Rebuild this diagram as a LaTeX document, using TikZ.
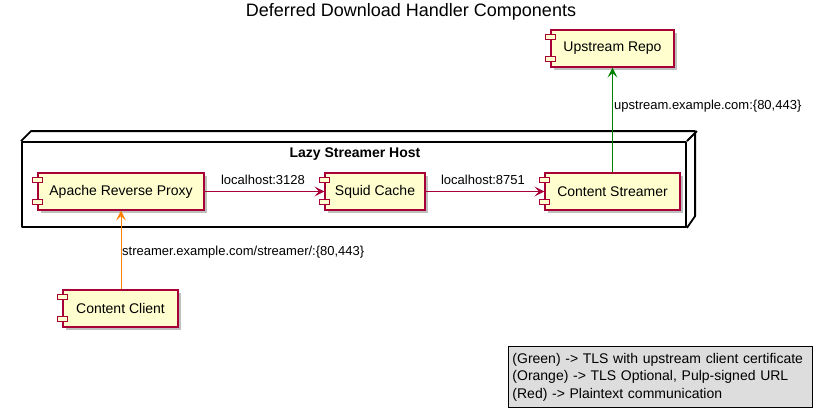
\documentclass[tikz,border=0pt]{standalone}
\usepackage{fontspec}
\setmainfont{Liberation Sans}
\usetikzlibrary{arrows.meta, shadows, calc}

\definecolor{compfill}{HTML}{FEFECE}
\definecolor{compline}{HTML}{A80036}
\definecolor{legfill}{HTML}{DDDDDD}

\begin{document}
\begin{tikzpicture}[
  x=1pt, y=-1pt,
  comp/.style={rectangle, draw=compline, fill=compfill, line width=1.2pt,
               minimum height=37pt, inner sep=0pt, font=\fontsize{14}{16}\selectfont,
               drop shadow={shadow xshift=3pt, shadow yshift=-3pt, opacity=0.25, fill=black}},
  icon/.style={draw=compline, fill=compfill, line width=1pt},
  hostline/.style={draw=black, line width=1.8pt, line join=round},
  plain/.style={->, >={Stealth[length=10pt, width=10pt, inset=4.5pt]}, line width=0.9pt, compline},
  tls/.style={plain, green!50!black},
  opt/.style={plain, orange},
  label/.style={font=\fontsize{13}{15}\selectfont, inner sep=0pt},
  ptitle/.style={font=\fontsize{18}{20}\selectfont},
]
\useasboundingbox (0,0) rectangle (822,418);

% --- title ---
\node[ptitle] (title) at (411, 12) {Deferred Download Handler Components};

% --- host (3d node) ---
\node[hostline, rectangle, minimum width=664pt, minimum height=85pt, inner sep=0pt]
  (host) at (354, 184.5) {};
\draw[hostline] (host.north west) -- ++(10,-10) -- ++(664,0) -- ++(0,85) -- (host.south east);
\draw[hostline] (host.north east) -- ++(10,-10);
\node[font=\fontsize{14}{16}\selectfont\bfseries] (hostname) at (355, 154) {Lazy Streamer Host};

% --- components ---
\node[comp, minimum width=166pt] (proxy) at (121, 191.5) {Apache Reverse Proxy};
\node[comp, minimum width=100pt] (squid) at (375, 191.5) {Squid Cache};
\node[comp, minimum width=135pt] (streamer) at (612.5, 191.5) {Content Streamer};
\node[comp, minimum width=123pt] (repo) at (612.5, 48.5) {Upstream Repo};
\node[comp, minimum width=115pt] (client) at (120.5, 308.5) {Content Client};

\foreach \c in {proxy, squid, streamer, repo, client} {
  \draw[icon] ($(\c.north west)+(-5,5)$) rectangle ++(10,5);
  \draw[icon] ($(\c.south west)+(-5,-11)$) rectangle ++(10,5);
}

% --- connections ---
\draw[plain] (proxy) -- (squid);
\node[label] (l3128) at (263, 180) {localhost:3128};
\draw[plain] (squid) -- (streamer);
\node[label] (l8751) at (483, 180) {localhost:8751};
\draw[tls] (streamer) -- (repo);
\node[label, anchor=west] (lup) at (614, 106) {upstream.example.com:\{80,443\}};
\draw[opt] (client.north -| proxy.south) -- (proxy);
\node[label, anchor=west] (lclient) at (122, 252) {streamer.example.com/streamer/:\{80,443\}};

% --- legend ---
\node[draw=black, fill=legfill, line width=0.9pt, align=left, anchor=north west,
      minimum width=304pt, minimum height=61pt, inner xsep=4pt, inner ysep=3pt,
      font=\fontsize{14}{17.5}\selectfont, text width=296pt] (legend) at (508, 346)
  {(Green) -> TLS with upstream client certificate\\
   (Orange) -> TLS Optional, Pulp-signed URL\\
   (Red) -> Plaintext communication};

\end{tikzpicture}
\end{document}
